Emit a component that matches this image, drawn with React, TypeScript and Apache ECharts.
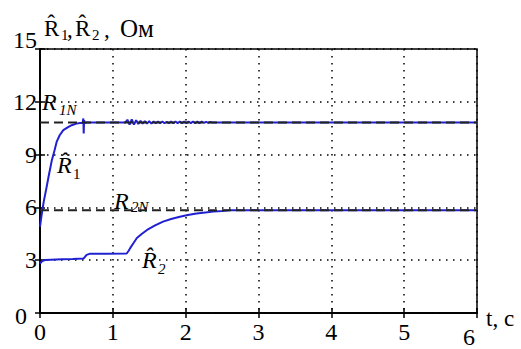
import React, { useEffect, useRef } from "react";
import * as echarts from "echarts";

// Axis ticks
const xTicks = [0, 1, 2, 3, 4, 5, 6];
const yTicks = [0, 3, 6, 9, 12, 15];

// Nominal values
const r1Nominal = 10.82;
const r2Nominal = 5.84;

// Estimate R1 (time, value)
const r1Time = [
  0, 0.02, 0.05, 0.09, 0.12, 0.16, 0.2, 0.23, 0.27, 0.32, 0.38, 0.435, 0.5, 0.55, 0.585, 0.595, 0.6,
  0.605, 0.615, 0.63, 0.7, 1.17, 1.2, 1.23, 1.26, 1.29, 1.32, 1.35, 1.38, 1.41, 1.44, 1.47, 1.5, 1.53,
  1.56, 1.59, 1.62, 1.65, 1.68, 1.71, 1.74, 1.77, 1.8, 1.83, 1.86, 1.89, 1.92, 1.95, 1.98, 2.01, 2.04,
  2.07, 2.1, 2.13, 2.16, 2.19, 2.22, 2.25, 2.28, 2.31, 2.34, 2.37, 6,
];
const r1Value = [
  4.9, 5.5, 6.3, 7.14, 7.8, 8.63, 9.25, 9.74, 10.1, 10.39, 10.55, 10.67, 10.76, 10.8, 10.8, 11.05, 10.2,
  10.95, 10.78, 10.82, 10.82, 10.82, 10.98, 10.7, 11.0, 10.7, 10.95, 10.74, 10.92, 10.76, 10.9, 10.77,
  10.89, 10.77, 10.88, 10.78, 10.88, 10.78, 10.88, 10.78, 10.87, 10.78, 10.88, 10.78, 10.88, 10.79,
  10.87, 10.79, 10.88, 10.79, 10.87, 10.79, 10.87, 10.79, 10.87, 10.79, 10.87, 10.8, 10.86, 10.8, 10.85,
  10.82, 10.82,
];

// Estimate R2 (time, value)
const r2Time = [
  0, 0.03, 0.07, 0.15, 0.3, 0.45, 0.6, 0.64, 0.68, 0.9, 1.19, 1.22, 1.24, 1.28, 1.33, 1.4, 1.47, 1.58,
  1.69, 1.8, 1.92, 2.03, 2.15, 2.27, 2.38, 2.5, 2.61, 3, 6,
];
const r2Value = [
  2.8, 2.95, 3.01, 3.03, 3.05, 3.07, 3.1, 3.3, 3.36, 3.37, 3.38, 3.55, 3.7, 3.95, 4.26, 4.5, 4.72, 4.98,
  5.19, 5.34, 5.47, 5.57, 5.65, 5.71, 5.76, 5.8, 5.84, 5.84, 5.84,
];

const FONT = "Liberation Serif";
const BLUE = "#2020d2";

function zip(t: number[], v: number[]) {
  return t.map((x, i) => [x, v[i]]);
}

function txt(text: string, x: number, y: number, size: number, italic = false) {
  const style: any = {
    text,
    fontFamily: FONT,
    fontSize: size,
    fill: "#000",
    align: "left",
    verticalAlign: "middle",
  };
  if (italic) style.fontStyle = "italic";
  return { type: "text", x, y, silent: true, style };
}

export default function App() {
  const ref = useRef<HTMLDivElement>(null);

  useEffect(() => {
    if (!ref.current) return;
    const chart = echarts.init(ref.current, undefined, { renderer: "svg" });
    const dotted = { type: [1.5, 5.5] as any, color: "#000", width: 1.5 };
    const axisLine = { show: true, lineStyle: { color: "#000", width: 1.5 } };
    const tick = { show: true, inside: true, length: 5, lineStyle: { color: "#000", width: 1.5 } };
    const lbl = { fontFamily: FONT, fontSize: 24, color: "#000" };

    chart.setOption({
      animation: false,
      backgroundColor: "#fff",
      textStyle: { fontFamily: FONT },
      grid: { left: 40, right: 44, top: 49, bottom: 31, show: true, borderColor: "#000", borderWidth: 1.5 },
      xAxis: [
        {
          type: "value",
          min: xTicks[0],
          max: xTicks[xTicks.length - 1],
          interval: 1,
          position: "bottom",
          axisLine,
          axisTick: tick,
          splitLine: { show: true, lineStyle: dotted },
          axisLabel: {
            ...lbl,
            margin: 7,
            formatter: (v: number) => (v === 6 ? `{last|${v}}` : `{n|${v}}`),
            rich: { n: { ...lbl }, last: { ...lbl, padding: [5, 16, 0, 0] } },
          },
        },
        {
          type: "value",
          min: xTicks[0],
          max: xTicks[xTicks.length - 1],
          interval: 1,
          position: "top",
          axisLine,
          axisTick: tick,
          splitLine: { show: false },
          axisLabel: { show: false },
        },
      ],
      yAxis: [
        {
          type: "value",
          min: yTicks[0],
          max: yTicks[yTicks.length - 1],
          interval: 3,
          position: "left",
          axisLine,
          axisTick: tick,
          splitLine: { show: true, lineStyle: dotted },
          axisLabel: {
            ...lbl,
            margin: 3,
            formatter: (v: number) => (v === 15 ? `{top|${v}}` : v === 0 ? `{bot|${v}}` : `{n|${v}}`),
            rich: {
              n: { ...lbl },
              top: { ...lbl, padding: [0, 0, 18, 0] },
              bot: { ...lbl, padding: [6, 10, 0, 0] },
            },
          },
        },
        {
          type: "value",
          min: yTicks[0],
          max: yTicks[yTicks.length - 1],
          interval: 3,
          position: "right",
          axisLine,
          axisTick: tick,
          splitLine: { show: false },
          axisLabel: { show: false },
        },
      ],
      series: [
        {
          type: "line",
          data: zip(r1Time, r1Value),
          showSymbol: false,
          silent: true,
          lineStyle: { color: BLUE, width: 2 },
          z: 3,
        },
        {
          type: "line",
          data: zip(r2Time, r2Value),
          showSymbol: false,
          silent: true,
          lineStyle: { color: BLUE, width: 2 },
          z: 3,
        },
        {
          type: "line",
          data: [
            [xTicks[0], r1Nominal],
            [xTicks[xTicks.length - 1], r1Nominal],
          ],
          showSymbol: false,
          silent: true,
          lineStyle: { color: "#222", width: 2, type: [9, 5] },
          z: 4,
        },
        {
          type: "line",
          data: [
            [xTicks[0], r2Nominal],
            [xTicks[xTicks.length - 1], r2Nominal],
          ],
          showSymbol: false,
          silent: true,
          lineStyle: { color: "#222", width: 2, type: [9, 5] },
          z: 4,
        },
      ],
      graphic: [
        // title
        txt("R\u0302", 44, 28, 23),
        txt("1", 61, 35, 15),
        txt(",", 67, 29, 23),
        txt("R\u0302", 75, 28, 23),
        txt("2", 92, 35, 15),
        txt(",", 104, 29, 23),
        txt("Ом", 120, 28, 25),
        // x axis name
        txt("t, c", 486, 318, 23),
        // annotations
        txt("R", 42, 102, 24, true),
        txt("1N", 59, 110, 15, true),
        txt("R\u0302", 57, 165, 24, true),
        txt("1", 73, 174, 15),
        txt("R", 114, 201, 24, true),
        txt("2N", 131, 207, 15, true),
        txt("R\u0302", 142, 260, 24, true),
        txt("2", 158, 269, 15, true),
      ],
    });
    return () => chart.dispose();
  }, []);

  return (
    <div
      ref={ref}
      style={{ position: "absolute", left: 0, top: 0, width: 521, height: 349 }}
    />
  );
}
